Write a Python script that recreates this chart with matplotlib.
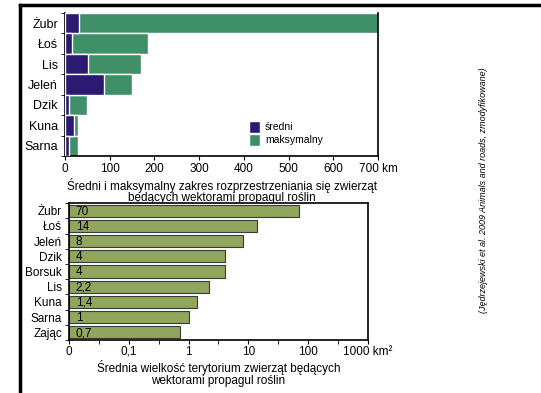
import numpy as np
import matplotlib.pyplot as plt
from matplotlib.lines import Line2D

plt.rcParams['font.family'] = ['Liberation Sans', 'DejaVu Sans']

# top chart: range of dispersal (km)
top_animals = ['Żubr', 'Łoś', 'Lis', 'Jeleń', 'Dzik', 'Kuna', 'Sarna']
top_mean = [32, 16, 52, 88, 10, 20, 10]
top_max = [700, 185, 170, 150, 50, 30, 30]
top_ticks = [0, 100, 200, 300, 400, 500, 600, 700]
top_ticklabels = ['0', '100', '200', '300', '400', '500', '600', '700 km']

# bottom chart: mean territory size (km2), log scale
bot_animals = ['Żubr', 'Łoś', 'Jeleń', 'Dzik', 'Borsuk', 'Lis', 'Kuna', 'Sarna', 'Zając']
bot_values = [70, 14, 8, 4, 4, 2.2, 1.4, 1, 0.7]
bot_labels = ['70', '14', '8', '4', '4', '2,2', '1,4', '1', '0,7']
bot_ticks = [0.01, 0.1, 1, 10, 100, 1000]
bot_ticklabels = ['0', '0,1', '1', '10', '100', '1000 km²']

c_mean = '#2b1a72'
c_max = '#3f8f68'
c_bar = '#8fa65c'

fig = plt.figure(figsize=(5.41, 3.93), dpi=100)

# ---- top chart
ax1 = fig.add_axes([0.120, 0.603, 0.579, 0.364])
y1 = np.arange(len(top_animals))
ax1.barh(y1, top_max, height=1.0, color=c_max, edgecolor='white', linewidth=1.0,
         label='maksymalny', zorder=2)
ax1.barh(y1, top_mean, height=1.0, color=c_mean, edgecolor='white', linewidth=1.0,
         label='średni', zorder=3)
ax1.set_xlim(0, 700)
ax1.set_ylim(len(top_animals) - 0.5, -0.5)
ax1.set_yticks(y1)
ax1.set_yticklabels(top_animals, fontsize=9)
ax1.tick_params(axis='y', length=0, pad=5)
ax1.set_yticks(np.arange(len(top_animals) + 1) - 0.5, minor=True)
ax1.tick_params(axis='y', which='minor', length=3, direction='out')
ax1.set_xticks(top_ticks)
ax1.set_xticklabels(top_ticklabels, fontsize=8.5)
ax1.tick_params(axis='x', length=3, direction='out', pad=2)
ax1.spines['top'].set_visible(False)
for s in ['left', 'bottom', 'right']:
    ax1.spines[s].set_linewidth(1.2)
ax1.set_xlabel('Średni i maksymalny zakres rozprzestrzeniania się zwierząt\n'
               'będących wektorami propagul roślin', fontsize=8.5, labelpad=2,
               linespacing=0.95)
h, l = ax1.get_legend_handles_labels()
ax1.legend(h[::-1], l[::-1], loc='upper left', bbox_to_anchor=(0.575, 0.275),
           frameon=False, fontsize=7.5, handlelength=1.0, handleheight=1.4,
           handletextpad=0.5, labelspacing=0.1, borderaxespad=0)

# ---- bottom chart
ax2 = fig.add_axes([0.1275, 0.135, 0.5525, 0.348])
y2 = np.arange(len(bot_animals))
ax2.barh(y2, bot_values, left=0.01, height=0.8, color=c_bar, edgecolor='#3a3a3a',
         linewidth=0.8, zorder=2)
for yy, lab in zip(y2, bot_labels):
    ax2.text(0.013, yy + 0.05, lab, va='center', ha='left', fontsize=8.5, zorder=3)
ax2.set_xscale('log')
ax2.set_xlim(0.01, 1000)
ax2.set_ylim(len(bot_animals) - 0.5, -0.5)
ax2.set_xticks(bot_ticks)
ax2.set_xticklabels(bot_ticklabels, fontsize=8.5)
ax2.set_xticks([10 ** (k + 0.5) for k in range(-2, 3)], minor=True)
ax2.set_xticklabels([], minor=True)
ax2.tick_params(axis='x', which='both', length=3, direction='out', pad=1)
ax2.set_yticks(y2)
ax2.set_yticklabels(bot_animals, fontsize=8.5)
ax2.tick_params(axis='y', length=0, pad=5)
ax2.set_yticks(np.arange(len(bot_animals) + 1) - 0.5, minor=True)
ax2.tick_params(axis='y', which='minor', length=3, direction='out')
for s in ax2.spines.values():
    s.set_linewidth(1.2)
ax2.set_xlabel('Średnia wielkość terytorium zwierząt będących\n'
               'wektorami propagul roślin', fontsize=8.5, labelpad=2, linespacing=0.95)

# side note
fig.text(0.893, 0.515, '(Jędrzejewski et al. 2009 Animals and roads, zmodyfikowane)',
         rotation=90, ha='center', va='center', fontsize=6.5, style='italic')

# page frame
fig.add_artist(Line2D([0.037, 1.0], [0.987, 0.987], color='black', linewidth=2.5))
fig.add_artist(Line2D([0.037, 0.037], [0.0, 0.987], color='black', linewidth=2.5))

fig.savefig('out.png', dpi=100)
